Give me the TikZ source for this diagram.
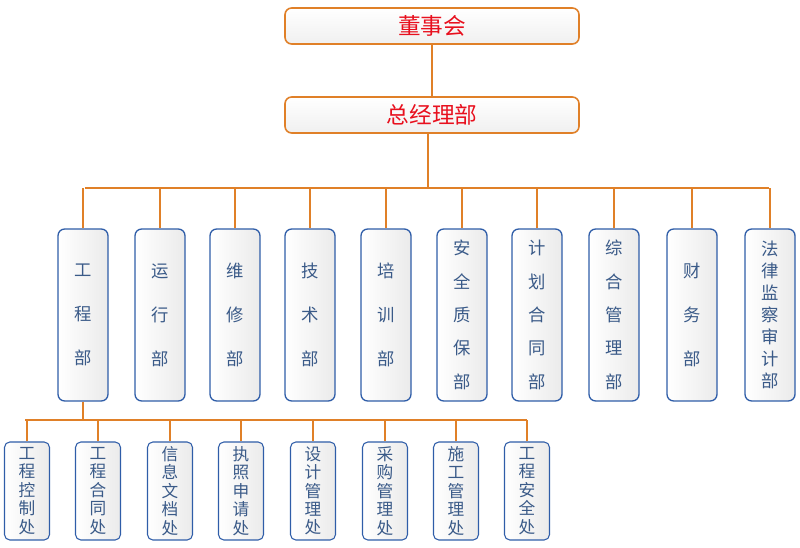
\documentclass[tikz,border=0pt]{standalone}
\usepackage{fontspec}
\setmainfont{Noto Sans CJK SC}
\usetikzlibrary{positioning}
\definecolor{linkorange}{HTML}{E08028}
\definecolor{boxblue}{HTML}{2F5DA8}
\definecolor{textblue}{HTML}{3A5A88}
\definecolor{headred}{HTML}{E8101E}
\tikzset{
  head box/.style={draw=linkorange, line width=1.2pt, rounded corners=5pt,
    top color=white, bottom color=black!6,
    minimum width={294*0.75pt}, minimum height={36*0.75pt},
    text=headred, font=\fontsize{17}{20}\selectfont},
  dept box/.style={draw=boxblue, line width=1pt, rounded corners=5pt,
    left color=white, right color=black!8,
    minimum width={50*0.75pt}, minimum height={172*0.75pt}, align=center,
    text=textblue, font=\fontsize{13}{#1}\selectfont},
  sub box/.style={draw=boxblue, line width=0.8pt, rounded corners=4pt,
    left color=white, right color=black!8, inner sep=1pt,
    minimum width={45*0.75pt}, minimum height={98*0.75pt}, align=center,
    text=textblue, font=\fontsize{12.5}{13.8}\selectfont},
  link/.style={draw=linkorange, line width=0.9pt},
}
\begin{document}
\begin{tikzpicture}[x=0.75pt, y=-0.75pt]
  \useasboundingbox (0,0) rectangle (800,548);
  % top of the tree
  \node [head box] (board) at (432,26) {董事会};
  \node [head box] (gm) at (432,115) {总经理部};
  \draw [link] (board) -- (gm);
  \coordinate (bus) at (428,188);
  \draw [link] (gm.south -| bus) -- (bus);
  \draw [link] (85,188) -- (769,188);
  % departments
  \foreach \name/\x/\skip/\txt in {
      d1/83/33/工\\程\\部, d2/160/33/运\\行\\部, d3/235/33/维\\修\\部,
      d4/310/33/技\\术\\部, d5/386/33/培\\训\\部, d6/462/25/安\\全\\质\\保\\部,
      d7/537/25/计\\划\\合\\同\\部, d8/614/25/综\\合\\管\\理\\部,
      d9/692/33/财\\务\\部, d10/770/16.5/法\\律\\监\\察\\审\\计\\部} {
    \node [dept box=\skip] (\name) at (\x,315) {\txt};
    \draw [link] (\name.north) -- (\name.north |- bus);
  }
  % offices of the engineering department
  \coordinate (subbus) at (83,420);
  \draw [link] (d1.south) -- (subbus);
  \draw [link] (25,420) -- (527,420);
  \foreach \name/\x/\txt in {
      s1/27/工\\程\\控\\制\\处, s2/98/工\\程\\合\\同\\处, s3/170/信\\息\\文\\档\\处,
      s4/241/执\\照\\申\\请\\处, s5/313/设\\计\\管\\理\\处, s6/385/采\\购\\管\\理\\处,
      s7/456/施\\工\\管\\理\\处, s8/527/工\\程\\安\\全\\处} {
    \node [sub box] (\name) at (\x,491) {\txt};
    \draw [link] (\name.north) -- (\name.north |- subbus);
  }
\end{tikzpicture}
\end{document}
